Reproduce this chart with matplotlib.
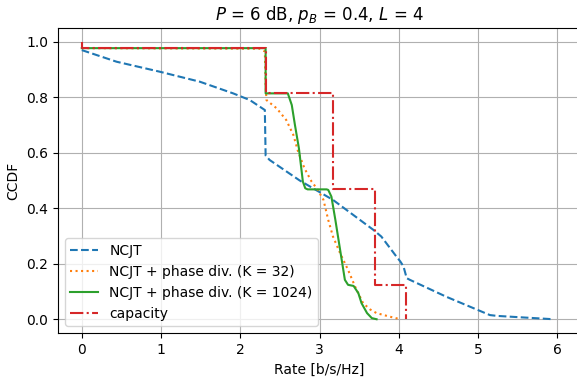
import numpy as np
import matplotlib.pyplot as plt

# NCJT (blue, dashed)
rate_ncjt = [0.0, 0.44, 0.985, 1.49, 1.91, 2.12, 2.31, 2.32, 2.37, 2.75, 3.17, 3.68, 3.78,
             3.97, 4.02, 4.06, 4.10, 4.14, 4.60, 5.15, 5.24, 5.95]
ccdf_ncjt = [0.97, 0.928, 0.892, 0.856, 0.814, 0.79, 0.754, 0.59, 0.574, 0.50, 0.43, 0.322, 0.298,
             0.226, 0.208, 0.19, 0.148, 0.142, 0.081, 0.015, 0.012, 0.0]

# NCJT + phase div. K = 32 (orange, dotted)
rate_k32 = [0.0, 2.25, 2.31, 2.32, 2.33, 2.46, 2.58, 2.67, 2.73, 2.81, 2.90, 2.97, 3.05, 3.11,
            3.17, 3.26, 3.36, 3.45, 3.55, 3.64, 3.72, 3.89, 4.02]
ccdf_k32 = [0.977, 0.975, 0.965, 0.85, 0.79, 0.76, 0.718, 0.664, 0.604, 0.544, 0.496, 0.47, 0.43, 0.358,
            0.298, 0.238, 0.178, 0.117, 0.058, 0.035, 0.022, 0.009, 0.0]

# NCJT + phase div. K = 1024 (green, solid)
rate_k1024 = [0.0, 2.32, 2.32, 2.60, 2.65, 2.69, 2.74, 2.77, 2.79, 2.82, 2.85, 3.09, 3.11,
              3.15, 3.20, 3.24, 3.28, 3.32, 3.36, 3.43, 3.49, 3.53, 3.60, 3.66, 3.72]
ccdf_k1024 = [0.977, 0.977, 0.814, 0.814, 0.772, 0.70, 0.616, 0.544, 0.496, 0.472, 0.468, 0.468, 0.466,
              0.442, 0.358, 0.286, 0.214, 0.142, 0.124, 0.12, 0.094, 0.058, 0.022, 0.004, 0.0]

# capacity (red, dash-dot), step function
rate_cap = [0.0, 0.0, 2.32, 3.17, 3.70, 4.09]
ccdf_cap = [1.0, 0.977, 0.814, 0.468, 0.124, 0.0]

fig = plt.figure(figsize=(5.77, 3.82), dpi=100)
ax = fig.add_axes([0.1005, 0.128, 0.9065, 0.799])

ax.plot(rate_ncjt, ccdf_ncjt, color="tab:blue", linestyle="--", label="NCJT")
ax.plot(rate_k32, ccdf_k32, color="tab:orange", linestyle=":", label="NCJT + phase div. (K = 32)")
ax.plot(rate_k1024, ccdf_k1024, color="tab:green", linestyle="-", label="NCJT + phase div. (K = 1024)")
ax.plot(rate_cap, ccdf_cap, color="tab:red", linestyle="-.", drawstyle="steps-post", label="capacity")

ax.set_xlim(-0.3, 6.3)
ax.set_ylim(-0.05, 1.05)
ax.grid(True)
ax.set_xlabel("Rate [b/s/Hz]")
ax.set_ylabel("CCDF")
ax.set_title("$P$ = 6 dB, $p_B$ = 0.4, $L$ = 4")
ax.legend(loc="lower left")

fig.savefig("out.png")
